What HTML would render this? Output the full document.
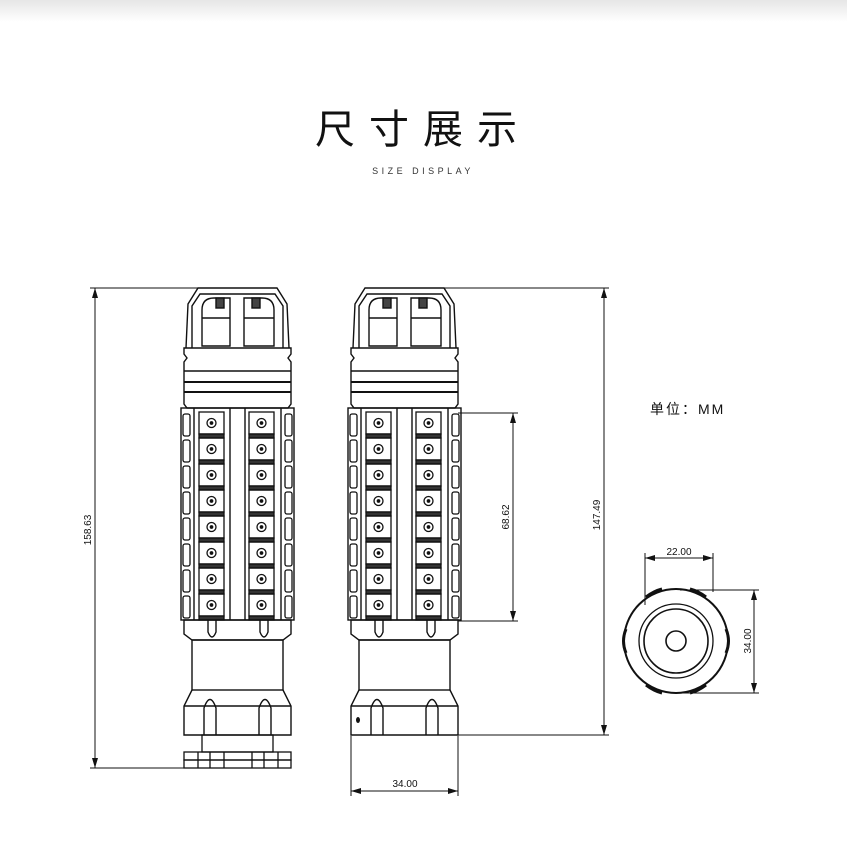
<!DOCTYPE html>
<html><head><meta charset="utf-8"><style>
html,body{margin:0;padding:0;background:#fff;}
svg{display:block}
</style></head><body>
<svg width="847" height="847" viewBox="0 0 847 847" xmlns="http://www.w3.org/2000/svg">
<defs>
<linearGradient id="tg" x1="0" y1="0" x2="0" y2="1"><stop offset="0" stop-color="#e6e6e6"/><stop offset="1" stop-color="#fff"/></linearGradient>
<g id="row" fill="none" stroke="#111" stroke-width="1.3">
  <rect x="15" y="0" width="25" height="22"/>
  <rect x="15" y="22" width="25" height="4" fill="#333"/>
  <circle cx="27.5" cy="11" r="4.5"/><circle cx="27.5" cy="11" r="1.2" fill="#111"/>
  <rect x="65" y="0" width="25" height="22"/>
  <rect x="65" y="22" width="25" height="4" fill="#333"/>
  <circle cx="77.5" cy="11" r="4.5"/><circle cx="77.5" cy="11" r="1.2" fill="#111"/>
  <rect x="-1" y="2" width="7" height="22" rx="2"/>
  <rect x="101" y="2" width="7" height="22" rx="2"/>
</g>
<g id="top" fill="none" stroke="#111" stroke-width="1.4">
  <path d="M2,62 L4,18 L14,2 L93,2 L103,18 L105,62"/>
  <path d="M8,62 L8,20 L16,8 L91,8 L99,20 L99,62"/>
  <path d="M18,60 L18,24 Q18,12 30,12 L46,12 L46,60 Z"/>
  <path d="M60,60 L60,12 L78,12 Q90,12 90,24 L90,60 Z"/>
  <line x1="18" y1="32" x2="46" y2="32"/><line x1="60" y1="32" x2="90" y2="32"/>
  <rect x="32" y="12" width="8" height="10" fill="#444"/><rect x="68" y="12" width="8" height="10" fill="#444"/>
  <path d="M0,62 L107,62 L107,68 L104,72 L107,76 L107,118 L104,122 L3,122 L0,118 L0,76 L3,72 L0,68 Z"/>
  <line x1="0" y1="85" x2="107" y2="85"/><line x1="0" y1="96" x2="107" y2="96" stroke-width="2"/>
  <line x1="0" y1="106" x2="107" y2="106" stroke-width="2"/>
  <rect x="-3" y="122" width="113" height="212"/>
  <line x1="10" y1="122" x2="10" y2="334"/><line x1="97" y1="122" x2="97" y2="334"/>
  <line x1="46" y1="122" x2="46" y2="334"/><line x1="61" y1="122" x2="61" y2="334"/>
</g>
<g id="bottom" fill="none" stroke="#111" stroke-width="1.4">
  <path d="M0,334 L107,334 L107,348 L99,354 L8,354 L0,348 Z"/>
  <path d="M24,334 L24,346 Q28,356 32,346 L32,334"/>
  <path d="M76,334 L76,346 Q80,356 84,346 L84,334"/>
  <rect x="8" y="354" width="91" height="50"/>
  <path d="M8,404 L0,420 L0,449 L107,449 L107,420 L99,404"/>
  <line x1="0" y1="420" x2="107" y2="420"/>
  <path d="M20,449 L20,422 Q26,405 32,422 L32,449"/>
  <path d="M75,449 L75,422 Q81,405 87,422 L87,449"/>
</g>
</defs>
<rect x="0" y="0" width="847" height="22" fill="url(#tg)"/>
<text x="423" y="143" text-anchor="middle" font-family="'Liberation Sans','Noto Sans CJK SC',sans-serif" font-size="40" letter-spacing="14" fill="#111">尺寸展示</text>
<text x="423" y="174" text-anchor="middle" font-family="'Liberation Sans',sans-serif" font-size="9" letter-spacing="3.5" fill="#333">SIZE DISPLAY</text>

<!-- left grip -->
<g transform="translate(184,286)">
  <use href="#top"/>
  <g transform="translate(0,126)"><use href="#row"/></g>
  <g transform="translate(0,152)"><use href="#row"/></g>
  <g transform="translate(0,178)"><use href="#row"/></g>
  <g transform="translate(0,204)"><use href="#row"/></g>
  <g transform="translate(0,230)"><use href="#row"/></g>
  <g transform="translate(0,256)"><use href="#row"/></g>
  <g transform="translate(0,282)"><use href="#row"/></g>
  <g transform="translate(0,308)"><use href="#row"/></g>
  <use href="#bottom"/>
  <g fill="none" stroke="#111" stroke-width="1.3">
    <rect x="18" y="449" width="71" height="17"/>
    <rect x="0" y="466" width="107" height="8"/><rect x="0" y="474" width="107" height="8"/>
    <line x1="14" y1="466" x2="14" y2="482"/><line x1="26" y1="466" x2="26" y2="482"/><line x1="40" y1="466" x2="40" y2="482"/>
    <line x1="68" y1="466" x2="68" y2="482"/><line x1="80" y1="466" x2="80" y2="482"/><line x1="94" y1="466" x2="94" y2="482"/>
  </g>
</g>
<!-- right grip -->
<g transform="translate(351,286)">
  <use href="#top"/>
  <g transform="translate(0,126)"><use href="#row"/></g>
  <g transform="translate(0,152)"><use href="#row"/></g>
  <g transform="translate(0,178)"><use href="#row"/></g>
  <g transform="translate(0,204)"><use href="#row"/></g>
  <g transform="translate(0,230)"><use href="#row"/></g>
  <g transform="translate(0,256)"><use href="#row"/></g>
  <g transform="translate(0,282)"><use href="#row"/></g>
  <g transform="translate(0,308)"><use href="#row"/></g>
  <use href="#bottom"/>
  <ellipse cx="7" cy="434" rx="2" ry="3" fill="#111"/>
</g>

<g stroke="#111" stroke-width="1" fill="#111">
  <line x1="95" y1="288" x2="95" y2="768"/>
  <line x1="90" y1="288" x2="198" y2="288"/><line x1="90" y1="768" x2="184" y2="768"/>
  <path d="M95,288 l-3,10 h6z M95,768 l-3,-10 h6z" stroke="none"/>
  <line x1="604" y1="288" x2="604" y2="735"/>
  <line x1="440" y1="288" x2="609" y2="288"/><line x1="458" y1="735" x2="609" y2="735"/>
  <path d="M604,288 l-3,10 h6z M604,735 l-3,-10 h6z" stroke="none"/>
  <line x1="513" y1="413" x2="513" y2="621"/>
  <line x1="458" y1="413" x2="518" y2="413"/><line x1="458" y1="621" x2="518" y2="621"/>
  <path d="M513,413 l-3,10 h6z M513,621 l-3,-10 h6z" stroke="none"/>
  <line x1="351" y1="791" x2="458" y2="791"/>
  <line x1="351" y1="736" x2="351" y2="796"/><line x1="458" y1="736" x2="458" y2="796"/>
  <path d="M351,791 l10,-3 v6z M458,791 l-10,-3 v6z" stroke="none"/>
  <line x1="645" y1="558" x2="713" y2="558"/>
  <line x1="645" y1="553" x2="645" y2="605"/><line x1="713" y1="553" x2="713" y2="592"/>
  <path d="M645,558 l10,-3 v6z M713,558 l-10,-3 v6z" stroke="none"/>
  <line x1="754" y1="590" x2="754" y2="693"/>
  <line x1="680" y1="590" x2="759" y2="590"/><line x1="680" y1="693" x2="759" y2="693"/>
  <path d="M754,590 l-3,10 h6z M754,693 l-3,-10 h6z" stroke="none"/>
</g>
<g fill="none" stroke="#111">
  <circle cx="676" cy="641" r="52" stroke-width="2"/>
  <circle cx="676" cy="641" r="37" stroke-width="1.3"/>
  <circle cx="676" cy="641" r="32" stroke-width="1.6"/>
  <circle cx="676" cy="641" r="10" stroke-width="1.6"/>
  <path d="M626,629 q-5,12 0,24 M726,629 q5,12 0,24 M646,597 q8,-6 16,-8 M690,589 q8,2 16,8 M646,685 q8,6 16,8 M690,693 q8,-2 16,-8" stroke-width="3"/>
</g>
<g font-family="'Liberation Sans',sans-serif" font-size="10" fill="#111">
  <text transform="translate(91,530) rotate(-90)" text-anchor="middle">158.63</text>
  <text transform="translate(600,515) rotate(-90)" text-anchor="middle">147.49</text>
  <text transform="translate(509,517) rotate(-90)" text-anchor="middle">68.62</text>
  <text x="405" y="787" text-anchor="middle">34.00</text>
  <text x="679" y="555" text-anchor="middle">22.00</text>
  <text transform="translate(751,641) rotate(-90)" text-anchor="middle">34.00</text>
</g>
<text x="650" y="414" font-family="'Liberation Sans','Noto Sans CJK SC',sans-serif" font-size="14" letter-spacing="2" fill="#111">单位：MM</text>
</svg>
</body></html>
